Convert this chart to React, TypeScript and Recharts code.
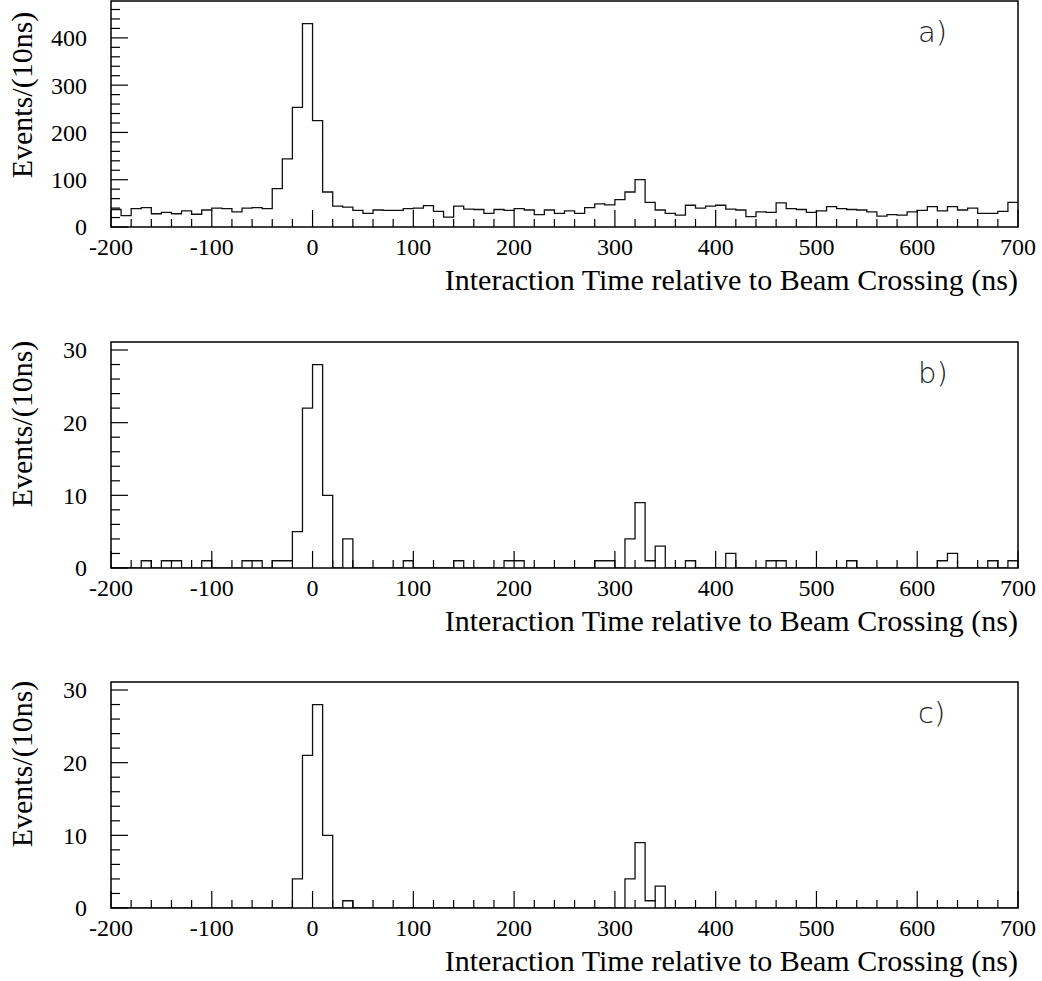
import React from "react";
import { LineChart, Line, XAxis, YAxis, ReferenceArea } from "recharts";

// 10 ns bins from -200 to 700 ns
const binEdges = Array.from({ length: 91 }, (_, i) => -200 + 10 * i);

const xMajorTicks = [-200, -100, 0, 100, 200, 300, 400, 500, 600, 700];

// a) all events
const countsA = [
  37, 24, 39, 41, 28, 31, 28, 34, 27, 36,
  40, 39, 32, 40, 41, 39, 81, 144, 253, 430,
  225, 74, 44, 42, 35, 29, 36, 35, 35, 39,
  40, 45, 33, 21, 44, 38, 37, 29, 37, 35,
  39, 36, 26, 36, 29, 34, 29, 41, 49, 47,
  58, 74, 100, 52, 36, 29, 25, 46, 40, 44,
  46, 38, 36, 22, 32, 31, 51, 39, 37, 31,
  34, 43, 39, 37, 36, 32, 23, 26, 25, 32,
  35, 43, 34, 43, 36, 40, 29, 29, 33, 52,
];

// b)
const countsB = [
  0, 0, 0, 1, 0, 1, 1, 0, 0, 1,
  0, 0, 0, 1, 1, 0, 1, 1, 5, 22,
  28, 10, 0, 4, 0, 0, 0, 0, 0, 1,
  0, 0, 0, 0, 1, 0, 0, 0, 0, 1,
  1, 0, 0, 0, 0, 0, 0, 0, 1, 1,
  0, 4, 9, 1, 3, 0, 0, 1, 0, 0,
  0, 2, 0, 0, 0, 1, 1, 0, 0, 0,
  0, 0, 0, 1, 0, 0, 0, 0, 0, 0,
  0, 0, 1, 2, 0, 0, 0, 1, 0, 1,
];

// c)
const countsC = [
  0, 0, 0, 0, 0, 0, 0, 0, 0, 0,
  0, 0, 0, 0, 0, 0, 0, 0, 4, 21,
  28, 10, 0, 1, 0, 0, 0, 0, 0, 0,
  0, 0, 0, 0, 0, 0, 0, 0, 0, 0,
  0, 0, 0, 0, 0, 0, 0, 0, 0, 0,
  0, 4, 9, 1, 3, 0, 0, 0, 0, 0,
  0, 0, 0, 0, 0, 0, 0, 0, 0, 0,
  0, 0, 0, 0, 0, 0, 0, 0, 0, 0,
  0, 0, 0, 0, 0, 0, 0, 0, 0, 0,
];

const range = (a: number, b: number, s: number) => {
  const out: number[] = [];
  for (let v = a; v <= b + 1e-9; v += s) out.push(Math.round(v * 1000) / 1000);
  return out;
};

const xTicks = range(-200, 700, 20);

const SERIF = '"Liberation Serif", "Times New Roman", serif';
const W = 1042;
const CH = 360;
const AXIS_W = 100;
const AXIS_H = 40;
const PLOT_TOP = 22;
const PLOT_BOTTOM = 248;

const XTick = (props: any) => {
  const { x, y, payload } = props;
  const major = xMajorTicks.includes(payload.value);
  return (
    <g>
      <line x1={x} x2={x} y1={y} y2={y - (major ? 17 : 8)} stroke="#000" strokeWidth={1.2} />
      {major && (
        <text x={x} y={y + 28} textAnchor="middle" fontSize={24} fontFamily={SERIF} fill="#000">
          {payload.value}
        </text>
      )}
    </g>
  );
};

const makeYTick = (majorStep: number) => (props: any) => {
  const { x, y, payload } = props;
  const major = payload.value % majorStep === 0;
  return (
    <g>
      <line x1={x} x2={x + (major ? 17 : 9)} y1={y} y2={y} stroke="#000" strokeWidth={1.2} />
      {major && (
        <text x={x - 24} y={y} dy="0.35em" textAnchor="end" fontSize={24} fontFamily={SERIF} fill="#000">
          {payload.value}
        </text>
      )}
    </g>
  );
};

type PanelProps = {
  counts: number[];
  top: number;
  yMax: number;
  yTicks: number[];
  majorStep: number;
  letter: string;
  labelCenter: number;
};

function Panel({ counts, top, yMax, yTicks, majorStep, letter, labelCenter }: PanelProps) {
  const data = binEdges.map((t, i) => ({ t, v: counts[Math.min(i, counts.length - 1)] }));
  return (
    <div style={{ position: "absolute", left: 0, top, width: W, height: CH }}>
      <LineChart
        width={W}
        height={CH}
        data={data}
        margin={{ top: PLOT_TOP, right: 24, bottom: CH - PLOT_BOTTOM - AXIS_H, left: 111 - AXIS_W }}
      >
        <XAxis
          dataKey="t"
          type="number"
          domain={[-200, 700]}
          ticks={xTicks}
          interval={0}
          allowDataOverflow
          axisLine={false}
          tickLine={false}
          tickSize={0}
          tickMargin={0}
          height={AXIS_H}
          tick={XTick}
        />
        <YAxis
          type="number"
          domain={[0, yMax]}
          ticks={yTicks}
          interval={0}
          allowDataOverflow
          axisLine={false}
          tickLine={false}
          tickSize={0}
          tickMargin={0}
          width={AXIS_W}
          tick={makeYTick(majorStep)}
        />
        <Line
          type="stepAfter"
          dataKey="v"
          stroke="#111"
          strokeWidth={1.3}
          dot={false}
          activeDot={false}
          isAnimationActive={false}
        />
        <ReferenceArea x1={-200} x2={700} y1={0} y2={yMax} fill="none" stroke="#000" strokeWidth={1.5} />
      </LineChart>
      <div
        style={{
          position: "absolute",
          right: 24,
          top: PLOT_BOTTOM + 53,
          transform: "translateY(-50%)",
          fontFamily: SERIF,
          fontSize: 30,
          lineHeight: 1,
          whiteSpace: "nowrap",
        }}
      >
        Interaction Time relative to Beam Crossing (ns)
      </div>
      <div
        style={{
          position: "absolute",
          left: 22,
          top: labelCenter + 20,
          transform: "translate(-50%, -50%) rotate(-90deg)",
          fontFamily: SERIF,
          fontSize: 30,
          lineHeight: 1,
          whiteSpace: "nowrap",
        }}
      >
        Events/(10ns)
      </div>
      <div
        style={{
          position: "absolute",
          left: 918,
          top: PLOT_TOP + 17,
          fontFamily: '"DejaVu Sans", sans-serif',
          fontWeight: 200,
          fontSize: 29,
          lineHeight: 1,
          color: "#222",
        }}
      >
        {letter}
      </div>
    </div>
  );
}

export default function App() {
  return (
    <div style={{ position: "relative", width: W, height: 981, background: "#fff" }}>
      <style>{"body{margin:0;background:#fff}"}</style>
      <Panel counts={countsA} top={-21} yMax={478} yTicks={range(0, 460, 20)} majorStep={100} letter="a)" labelCenter={96} />
      <Panel counts={countsB} top={320} yMax={31.1} yTicks={range(0, 30, 2)} majorStep={10} letter="b)" labelCenter={84} />
      <Panel counts={countsC} top={660} yMax={31.1} yTicks={range(0, 30, 2)} majorStep={10} letter="c)" labelCenter={84} />
    </div>
  );
}
